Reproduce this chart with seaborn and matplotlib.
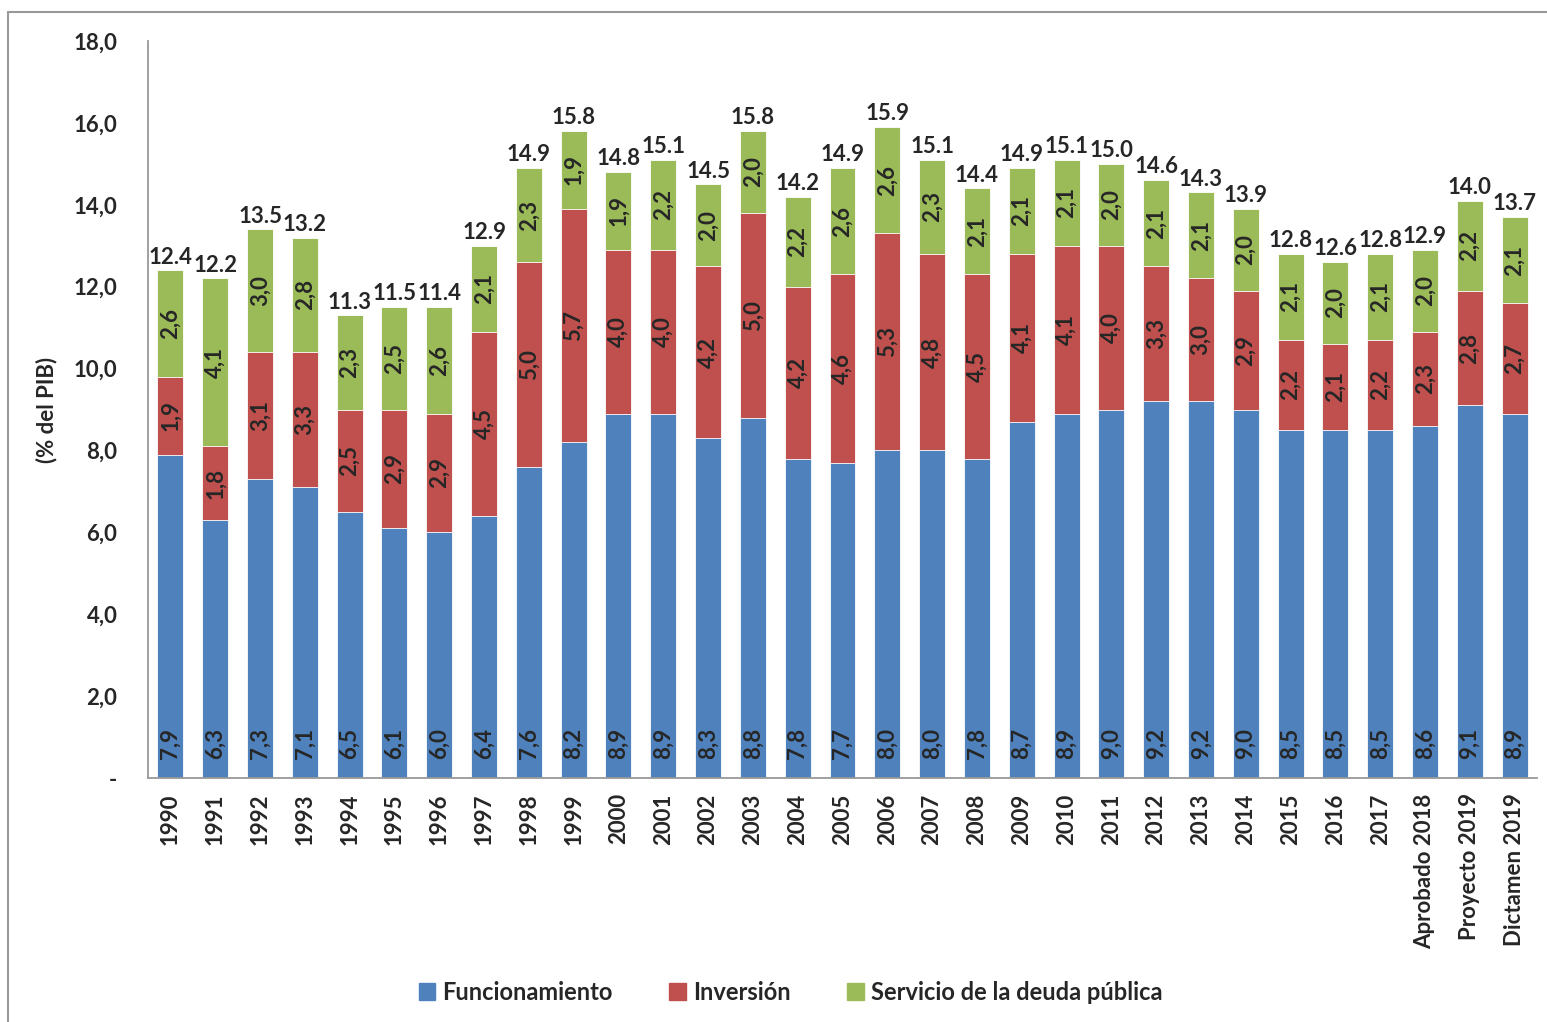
import pandas as pd
import seaborn as sns
import matplotlib.pyplot as plt
from matplotlib.lines import Line2D
from matplotlib.patches import Patch

# data (% del PIB)
periodos = ['1990', '1991', '1992', '1993', '1994', '1995', '1996', '1997', '1998', '1999',
            '2000', '2001', '2002', '2003', '2004', '2005', '2006', '2007', '2008', '2009',
            '2010', '2011', '2012', '2013', '2014', '2015', '2016', '2017',
            'Aprobado 2018', 'Proyecto 2019', 'Dictamen 2019']
funcionamiento = [7.9, 6.3, 7.3, 7.1, 6.5, 6.1, 6.0, 6.4, 7.6, 8.2,
                  8.9, 8.9, 8.3, 8.8, 7.8, 7.7, 8.0, 8.0, 7.8, 8.7,
                  8.9, 9.0, 9.2, 9.2, 9.0, 8.5, 8.5, 8.5, 8.6, 9.1, 8.9]
inversion = [1.9, 1.8, 3.1, 3.3, 2.5, 2.9, 2.9, 4.5, 5.0, 5.7,
             4.0, 4.0, 4.2, 5.0, 4.2, 4.6, 5.3, 4.8, 4.5, 4.1,
             4.1, 4.0, 3.3, 3.0, 2.9, 2.2, 2.1, 2.2, 2.3, 2.8, 2.7]
deuda = [2.6, 4.1, 3.0, 2.8, 2.3, 2.5, 2.6, 2.1, 2.3, 1.9,
         1.9, 2.2, 2.0, 2.0, 2.2, 2.6, 2.6, 2.3, 2.1, 2.1,
         2.1, 2.0, 2.1, 2.1, 2.0, 2.1, 2.0, 2.1, 2.0, 2.2, 2.1]
totales = [12.4, 12.2, 13.5, 13.2, 11.3, 11.5, 11.4, 12.9, 14.9, 15.8,
           14.8, 15.1, 14.5, 15.8, 14.2, 14.9, 15.9, 15.1, 14.4, 14.9,
           15.1, 15.0, 14.6, 14.3, 13.9, 12.8, 12.6, 12.8, 12.9, 14.0, 13.7]

azul = '#4F81BD'
rojo = '#C0504D'
verde = '#9BBB59'

df = pd.DataFrame({'periodo': periodos, 'func': funcionamiento,
                   'inv': inversion, 'deuda': deuda})
df['hasta_inv'] = df['func'] + df['inv']
df['hasta_deuda'] = df['hasta_inv'] + df['deuda']

sns.set_style('white')
plt.rcParams['font.family'] = ['Lato', 'DejaVu Sans']
plt.rcParams['font.weight'] = 'bold'

fig, ax = plt.subplots(figsize=(15.47, 10.22), dpi=100)
fig.subplots_adjust(left=0.0957, right=0.9935, bottom=0.2387, top=0.9599)

# stacked bars: draw cumulative heights from the top down
bar_kw = dict(width=0.58, saturation=1, edgecolor='white', linewidth=0.6, ax=ax)
sns.barplot(data=df, x='periodo', y='hasta_deuda', color=verde, **bar_kw)
sns.barplot(data=df, x='periodo', y='hasta_inv', color=rojo, **bar_kw)
sns.barplot(data=df, x='periodo', y='func', color=azul, **bar_kw)

fs = 16
for i in range(len(periodos)):
    f = funcionamiento[i]
    inv = inversion[i]
    d = deuda[i]
    ax.annotate(f"{f:.1f}".replace('.', ','), (i, 0), xytext=(0, 14),
                textcoords='offset points', rotation=90, ha='center', va='bottom',
                fontsize=fs, fontweight='bold')
    ax.text(i, f + inv / 2, f"{inv:.1f}".replace('.', ','), rotation=90,
            ha='center', va='center', fontsize=fs, fontweight='bold')
    ax.text(i, f + inv + d / 2, f"{d:.1f}".replace('.', ','), rotation=90,
            ha='center', va='center', fontsize=fs, fontweight='bold')
    ax.annotate(f"{totales[i]:.1f}", (i, f + inv + d), xytext=(0, 2),
                textcoords='offset points', ha='center', va='bottom',
                fontsize=fs, fontweight='bold')

ax.set_xlim(-0.5, len(periodos) - 0.5)
ax.set_ylim(0, 18)
yt = [0, 2, 4, 6, 8, 10, 12, 14, 16, 18]
ax.set_yticks(yt)
ax.set_yticklabels(['-'] + [f"{v:.1f}".replace('.', ',') for v in yt[1:]])
ax.tick_params(axis='y', length=0, pad=22, labelsize=fs)
ax.tick_params(axis='x', length=0, pad=11, labelsize=fs, rotation=90)
for lab in ax.get_xticklabels() + ax.get_yticklabels():
    lab.set_fontweight('bold')

ax.set_xlabel('')
ax.set_ylabel('(% del PIB)', fontsize=fs, fontweight='bold')
ax.yaxis.set_label_coords(-0.065, 0.5)

sns.despine(ax=ax)
for s in ['left', 'bottom']:
    ax.spines[s].set_color('#999999')
    ax.spines[s].set_linewidth(1.3)

handles = [Patch(color=azul, label='Funcionamiento'),
           Patch(color=rojo, label='Inversión'),
           Patch(color=verde, label='Servicio de la deuda pública')]
fig.legend(handles=handles, loc='center', bbox_to_anchor=(0.511, 0.029), ncol=3,
           frameon=False, prop={'size': 17, 'weight': 'bold'},
           handlelength=0.7, handleheight=0.7, handletextpad=0.3,
           columnspacing=2.4)

# outer frame of the slide
fig.add_artist(Line2D([8 / 1547, 8 / 1547], [0, 1 - 12 / 1022],
                      transform=fig.transFigure, color='#999999', lw=1.5))
fig.add_artist(Line2D([8 / 1547, 1], [1 - 12 / 1022, 1 - 12 / 1022],
                      transform=fig.transFigure, color='#999999', lw=1.5))

fig.savefig('out.png', dpi=100)
